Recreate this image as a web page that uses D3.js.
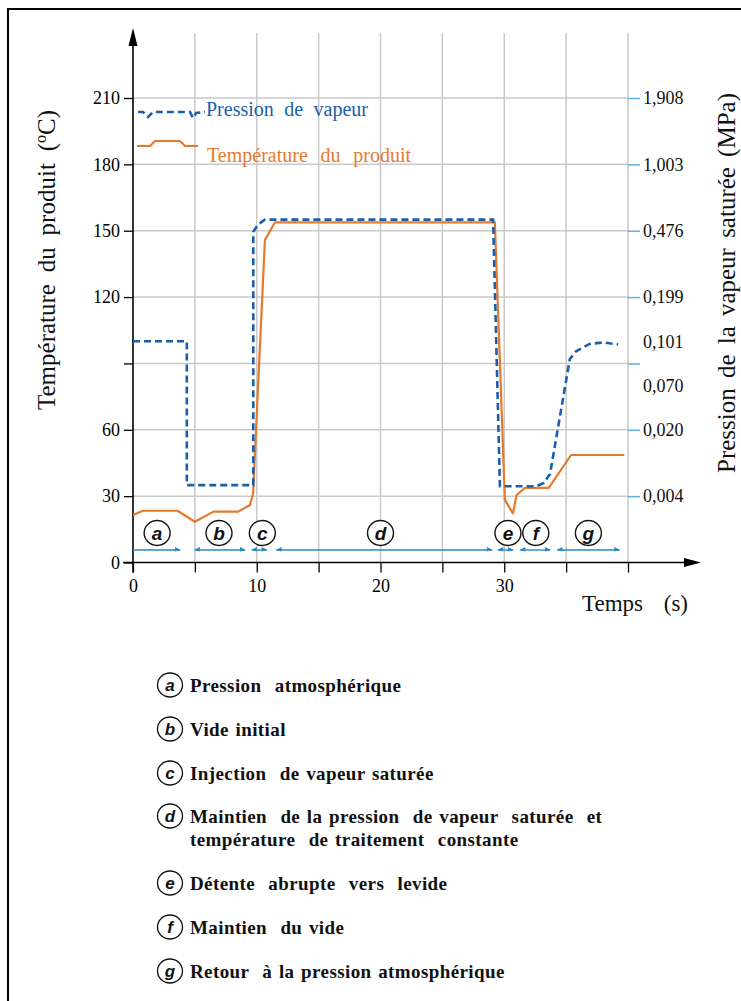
<!DOCTYPE html>
<html><head><meta charset="utf-8">
<script src="https://cdn.jsdelivr.net/npm/d3@7/dist/d3.min.js"></script>
<style>
html,body{margin:0;padding:0;background:#fff;}
svg{display:block;}
</style></head>
<body>
<script>
// ---------- data ----------
const timeTicks = [0,5,10,15,20,25,30,35,40];
const timeLabels = [0,10,20,30];
const tempTicks = [0,30,60,90,120,150,180,210];
const tempLabels = [0,30,60,120,150,180,210];
const pressureTickTemps = [30,60,90,120,150,180,210];
const pressureLabels = ["1,908","1,003","0,476","0,199","0,101","0,070","0,020","0,004"];
const pressureLabelTemps = [210,180,150,120,100,80,60,30];

// pressure curve, expressed on the temperature (saturation) scale
const pressureTime = [0,4.35,4.35,9.72,9.72,10.1,10.66,29.1,29.65,32.6,33.2,33.7,35.3,35.8,36.9,38.0,39.2];
const pressureVal  = [100,100,35,35,149.5,152.8,155,155,34.5,34.5,36,40,92,95.5,98.8,99.5,98.6];

const tempTime = [0,0.8,3.6,5.0,6.5,8.5,9.45,9.7,10.66,11.47,29.24,30.05,30.7,31.0,31.66,33.6,35.4,39.7];
const tempVal  = [21.5,23.4,23.4,18.4,23,23,26,31,145.8,153.8,153.8,28.3,22.2,30.5,33.7,33.7,48.6,48.6];

const phaseLetters = ["a","b","c","d","e","f","g"];
const phaseCenter  = [1.95,6.95,10.45,20.0,30.3,32.55,36.8];
const phaseStart   = [0,5.0,9.6,11.6,29.5,31.3,34.3];
const phaseEnd     = [3.8,9.05,10.8,29.0,30.7,33.7,39.3];
const phaseText = [
  ["Pression  atmosphérique"],
  ["Vide initial"],
  ["Injection  de vapeur saturée"],
  ["Maintien  de la pression  de vapeur  saturée  et","température  de traitement  constante"],
  ["Détente  abrupte  vers  levide"],
  ["Maintien  du vide"],
  ["Retour  à la pression atmosphérique"]
];
const legendRowY = [685,729,773,816,883,927,971];

const seriesNames = ["Pression de vapeur","Température du produit"];

// ---------- drawing ----------
const SERIF = "'Liberation Serif','Times New Roman',serif";
const SANS = "'Liberation Sans',Arial,sans-serif";
const W = 741, H = 1001;
const BLUE = "#1b5fab", ORANGE = "#e8782c", GRID = "#c9c9c9", TICKBLUE = "#5ab0e0", ARROWBLUE = "#2b87c9";
const svg = d3.select("body").append("svg").attr("width", W).attr("height", H);

// stretch word gaps so a text reaches a target length
function fitWords(sel, target){
  const node = sel.node();
  const len = node.getComputedTextLength();
  const n = (node.textContent.match(/ /g) || []).length;
  if (n > 0) sel.attr("word-spacing", Math.max(0,(target - len)/n));
}

// frame
svg.append("path").attr("d","M8,1001 V9 H741").attr("fill","none").attr("stroke","#000").attr("stroke-width",2);

const x = d3.scaleLinear().domain([0,40]).range([133,628]);
const y = d3.scaleLinear().domain([0,210]).range([562.5,98]);

// grid
const g = svg.append("g");
g.selectAll(".vg").data(timeTicks.filter(d=>d>0)).join("line")
  .attr("x1",d=>x(d)).attr("x2",d=>x(d)).attr("y1",y(0)).attr("y2",33)
  .attr("stroke",GRID).attr("stroke-width",1.5);
g.selectAll(".hg").data(tempTicks.filter(d=>d>0)).join("line")
  .attr("x1",x(0)).attr("x2",x(40)).attr("y1",d=>y(d)).attr("y2",d=>y(d))
  .attr("stroke",GRID).attr("stroke-width",1.5);

// left axis
const yAxis = d3.axisLeft(y).tickValues(tempTicks).tickSize(9)
  .tickFormat(d => tempLabels.includes(d) ? d : "");
const ya = svg.append("g").attr("transform",`translate(${x(0)},0)`).call(yAxis);
ya.select(".domain").remove();
ya.selectAll(".tick line").attr("stroke","#000").attr("stroke-width",1.3);
ya.selectAll(".tick text").style("font-family",SERIF).style("font-size","18px").attr("fill","#000").attr("x",-13);
svg.append("line").attr("x1",x(0)).attr("x2",x(0)).attr("y1",y(0)+10).attr("y2",40)
  .attr("stroke","#000").attr("stroke-width",1.6);
svg.append("path").attr("d",`M${x(0)},28 L${x(0)-4.5},46 L${x(0)+4.5},46 Z`).attr("fill","#000");

// bottom axis
const xAxis = d3.axisBottom(x).tickValues(timeTicks).tickSize(10)
  .tickFormat(d => timeLabels.includes(d) ? d : "");
const xa = svg.append("g").attr("transform",`translate(0,${y(0)})`).call(xAxis);
xa.select(".domain").remove();
xa.selectAll(".tick line").attr("stroke","#000").attr("stroke-width",1.3);
xa.selectAll(".tick text").style("font-family",SERIF).style("font-size","18px").attr("fill","#000").attr("y",17);
svg.append("line").attr("x1",x(0)-10).attr("x2",690).attr("y1",y(0)).attr("y2",y(0))
  .attr("stroke","#000").attr("stroke-width",1.6);
svg.append("path").attr("d",`M701,${y(0)} L684,${y(0)-4.5} L684,${y(0)+4.5} Z`).attr("fill","#000");

// right axis (pressure)
const ra = svg.append("g").attr("transform",`translate(${x(40)},0)`)
  .call(d3.axisRight(y).tickValues(pressureTickTemps).tickSize(12).tickFormat(""));
ra.select(".domain").remove();
ra.selectAll(".tick line").attr("stroke",TICKBLUE).attr("stroke-width",1.5);
svg.selectAll(".plab").data(pressureLabels).join("text")
  .attr("x",x(40)+15).attr("y",(d,i)=>y(pressureLabelTemps[i])).attr("dy","0.35em")
  .style("font-family",SERIF).style("font-size","18px").attr("fill","#111").text(d=>d);

// axis titles
const lt = svg.append("text").attr("transform","translate(55,260) rotate(-90)").attr("text-anchor","middle")
  .style("font-family",SERIF).style("font-size","25px").attr("fill","#111")
  .html('Température du produit (<tspan font-size="16" dy="-9">o</tspan><tspan dy="9">C)</tspan>');
fitWords(lt, 300);
const rt = svg.append("text").attr("transform","translate(735,283) rotate(-90)").attr("text-anchor","middle")
  .style("font-family",SERIF).style("font-size","25px").attr("fill","#111")
  .text("Pression de la vapeur saturée (MPa)");
fitWords(rt, 380);
const tt = svg.append("text").attr("x",582).attr("y",611).style("font-family",SERIF).style("font-size","23px").attr("fill","#111")
  .text("Temps (s)");
fitWords(tt, 106);

// series
const pData = pressureTime.map((t,i)=>[t,pressureVal[i]]);
const tData = tempTime.map((t,i)=>[t,tempVal[i]]);
const line = d3.line().x(d=>x(d[0])).y(d=>y(d[1]));
svg.append("path").datum(tData).attr("d",line).attr("fill","none")
  .attr("stroke",ORANGE).attr("stroke-width",2.2).attr("stroke-linejoin","round");
svg.append("path").datum(pData).attr("d",line).attr("fill","none")
  .attr("stroke",BLUE).attr("stroke-width",2.6).attr("stroke-dasharray","7,4");

// legend (top-left)
const legBlue = [[0,0],[5,0],[10,5],[15,0],[52,0],[55,6],[58,1],[67,0]];
const legOrange = [[0,0],[13,0],[18,-5],[43,-5],[48,0],[61,0]];
const rel = d3.line().x(d=>d[0]).y(d=>d[1]);
svg.append("path").attr("transform","translate(138,112)").attr("d",rel(legBlue))
  .attr("fill","none").attr("stroke",BLUE).attr("stroke-width",2.6).attr("stroke-dasharray","7,4");
svg.append("path").attr("transform","translate(137,146)").attr("d",rel(legOrange))
  .attr("fill","none").attr("stroke",ORANGE).attr("stroke-width",2.2);
const l1 = svg.append("text").attr("x",206).attr("y",116).style("font-family",SERIF).style("font-size","20px")
  .attr("fill",BLUE).text(seriesNames[0]);
fitWords(l1, 162);
const l2 = svg.append("text").attr("x",207).attr("y",162).style("font-family",SERIF).style("font-size","20px")
  .attr("fill",ORANGE).text(seriesNames[1]);
fitWords(l2, 204);

// phase arrows
const arrowY = 550;
const pa = svg.append("g");
phaseLetters.forEach((l,i)=>{
  const x1 = x(phaseStart[i]), x2 = x(phaseEnd[i]);
  pa.append("line").attr("x1",x1).attr("x2",x2).attr("y1",arrowY).attr("y2",arrowY)
    .attr("stroke",ARROWBLUE).attr("stroke-width",1.4);
  pa.append("path").attr("d",`M${x2+1},${arrowY} L${x2-5},${arrowY-3} L${x2-5},${arrowY+1.5} Z`).attr("fill",ARROWBLUE);
  if (i>0) pa.append("path").attr("d",`M${x1-1},${arrowY} L${x1+5},${arrowY-3} L${x1+5},${arrowY+1.5} Z`).attr("fill",ARROWBLUE);
});
// phase circles
const pc = svg.selectAll(".pc").data(phaseLetters).join("g")
  .attr("transform",(d,i)=>`translate(${x(phaseCenter[i])},533)`);
pc.append("ellipse").attr("rx",13).attr("ry",12.5).attr("fill","#fff").attr("stroke","#111").attr("stroke-width",1.4);
pc.append("text").attr("text-anchor","middle").attr("dy","0.35em")
  .style("font-family",SANS).attr("font-style","italic").attr("font-weight","bold")
  .style("font-size","19px").attr("fill","#111").text(d=>d);

// bottom legend
const bl = svg.selectAll(".bl").data(phaseLetters).join("g")
  .attr("transform",(d,i)=>`translate(0,${legendRowY[i]})`);
bl.append("ellipse").attr("cx",170).attr("rx",12.5).attr("ry",12).attr("fill","none").attr("stroke","#111").attr("stroke-width",1.3);
bl.append("text").attr("x",170).attr("text-anchor","middle").attr("dy","0.35em")
  .style("font-family",SANS).attr("font-style","italic").attr("font-weight","bold")
  .style("font-size","17px").attr("fill","#111").text(d=>d);
bl.each(function(d,i){
  const sel = d3.select(this);
  phaseText[i].forEach((s,j)=>{
    sel.append("text").attr("x",190).attr("y",j*23).attr("dy","0.35em")
      .style("font-family",SERIF).style("font-size","19px").attr("font-weight","bold").attr("fill","#111")
      .attr("letter-spacing",0.4).attr("word-spacing",1.5)
      .style("white-space","pre").text(s);
  });
});
</script>
</body></html>
